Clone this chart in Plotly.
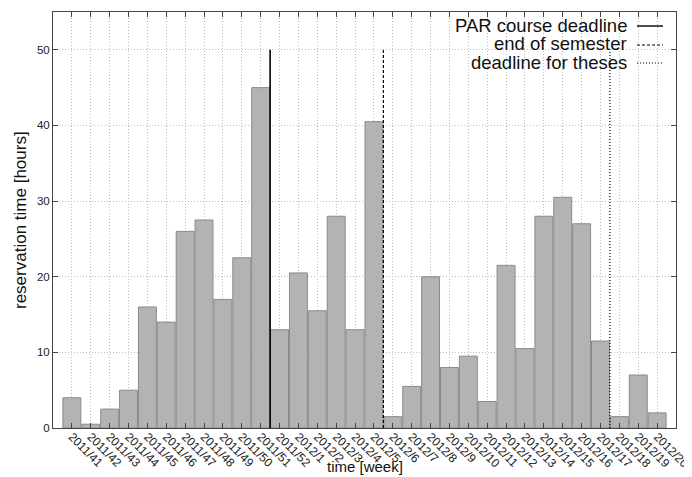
import plotly.graph_objects as go

# ---- data ----
weeks = ["2011/41", "2011/42", "2011/43", "2011/44", "2011/45", "2011/46", "2011/47",
         "2011/48", "2011/49", "2011/50", "2011/51", "2011/52",
         "2012/1", "2012/2", "2012/3", "2012/4", "2012/5", "2012/6", "2012/7", "2012/8",
         "2012/9", "2012/10", "2012/11", "2012/12", "2012/13", "2012/14", "2012/15",
         "2012/16", "2012/17", "2012/18", "2012/19", "2012/20"]
hours = [4, 0.5, 2.5, 5, 16, 14, 26, 27.5, 17, 22.5, 45, 13,
         20.5, 15.5, 28, 13, 40.5, 1.5, 5.5, 20, 8, 9.5, 3.5, 21.5,
         10.5, 28, 30.5, 27, 11.5, 1.5, 7, 2]
deadline_names = ["PAR course deadline", "end of semester", "deadline for theses"]
deadline_after_week = ["2011/51", "2012/5", "2012/17"]
deadline_height = [50, 50, 50]
y_ticks = [0, 10, 20, 30, 40, 50]

# ---- layout geometry (page body has an 8px margin) ----
OFF = 8
W, H = 692 - OFF, 477 - OFF
ML, MR, MT, MB = 53 - OFF, 16, 12 - OFF, 49
PW, PH = W - ML - MR, H - MT - MB
FONT = "Liberation Sans, Arial, Helvetica, sans-serif"


def px_x(p):
    # window pixel -> paper x
    return (p - OFF - ML) / PW


def px_y(p):
    # window pixel -> paper y
    return (H - MB - (p - OFF)) / PH


xs = list(range(len(weeks)))

fig = go.Figure()
fig.add_trace(go.Bar(
    x=xs, y=hours,
    marker=dict(color="#b3b3b3", line=dict(color="#8a8a8a", width=1)),
    hoverinfo="skip",
))

styles = [dict(color="black", width=1.6, dash="solid"),
          dict(color="black", width=1.2, dash="3px,2px"),
          dict(color="black", width=1.2, dash="1px,2px")]

for name, wk, h, st in zip(deadline_names, deadline_after_week, deadline_height, styles):
    xpos = weeks.index(wk) + 0.5
    fig.add_trace(go.Scatter(x=[xpos, xpos], y=[0, h], mode="lines",
                             line=st, name=name, hoverinfo="skip"))

# ---- custom legend (text right-aligned, sample on the right) ----
row_centers = [25, 44, 62]
row_text_left = [451, 493, 470]
row_boxes = [(14, 34), (34, 51), (52, 70)]
shapes = []
annotations = []
for name, st, yc, tl, (b0, b1) in zip(deadline_names, styles, row_centers, row_text_left, row_boxes):
    shapes.append(dict(type="rect", xref="paper", yref="paper",
                       x0=px_x(tl), x1=px_x(668), y0=px_y(b1), y1=px_y(b0),
                       fillcolor="white", line=dict(width=0), layer="between"))
    shapes.append(dict(type="line", xref="paper", yref="paper",
                       x0=px_x(637), x1=px_x(663), y0=px_y(yc + 1), y1=px_y(yc + 1),
                       line=dict(color="black", width=1.2 if st["dash"] != "solid" else 1.4,
                                 dash=st["dash"])))
    annotations.append(dict(text=name, xref="paper", yref="paper",
                            x=px_x(629), y=px_y(yc), xanchor="right", yanchor="middle",
                            showarrow=False, font=dict(size=18.5, family=FONT, color="#111")))

# axis titles
annotations.append(dict(text="time [week]", xref="paper", yref="paper", x=0.5, y=0,
                        xanchor="center", yanchor="middle", yshift=-38, showarrow=False,
                        font=dict(size=15, family=FONT, color="#111")))
annotations.append(dict(text="reservation time [hours]", xref="paper", yref="paper",
                        x=0, y=0.5, xanchor="center", yanchor="middle", xshift=-33,
                        textangle=-90, showarrow=False,
                        font=dict(size=17, family=FONT, color="#111")))

fig.update_layout(
    width=W, height=H,
    margin=dict(l=ML, r=MR, t=MT, b=MB),
    plot_bgcolor="white", paper_bgcolor="white",
    showlegend=False, bargap=0.05,
    font=dict(family=FONT, color="#222"),
    shapes=shapes, annotations=annotations,
)
fig.update_xaxes(
    range=[-1, len(weeks)], tickmode="array", tickvals=xs, ticktext=weeks,
    tickangle=45, tickfont=dict(size=12, color="#222"), ticklabelstandoff=-4,
    showgrid=True, gridcolor="#bdbdbd", griddash="1px,2px", gridwidth=1,
    showline=True, linecolor="#444", linewidth=1, mirror="allticks",
    ticks="inside", ticklen=5, tickcolor="#444", zeroline=False, automargin=False,
)
fig.update_yaxes(
    range=[0, 55], tickmode="array", tickvals=y_ticks,
    tickfont=dict(size=11.5, color="#222"),
    showgrid=True, gridcolor="#bdbdbd", griddash="1px,2px", gridwidth=1,
    showline=True, linecolor="#444", linewidth=1, mirror="allticks",
    ticks="inside", ticklen=5, tickcolor="#444", zeroline=False, automargin=False,
)

fig.write_html("out.html")
